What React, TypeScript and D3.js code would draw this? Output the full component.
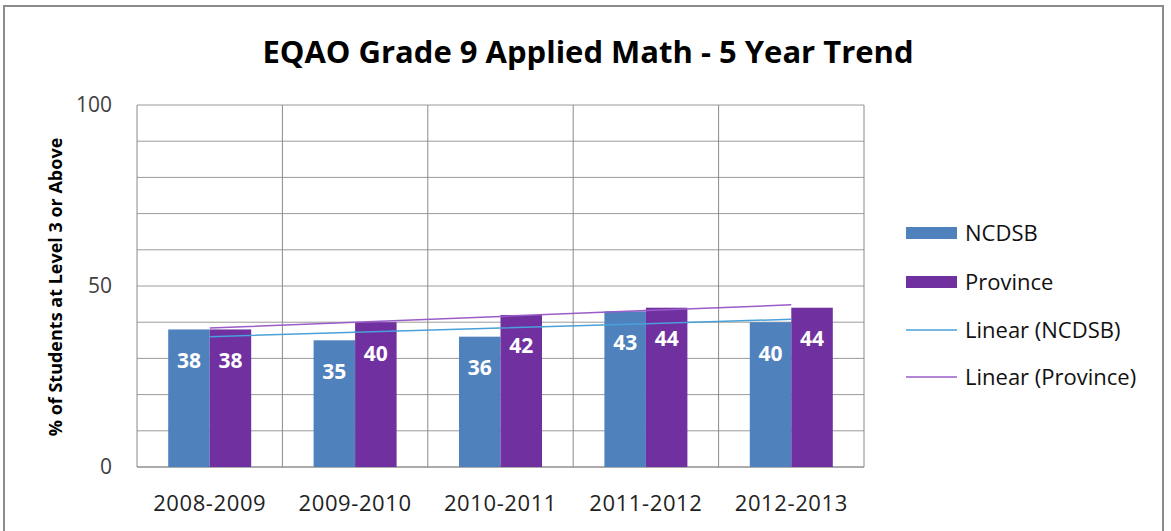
import React from "react";
import * as d3 from "d3";

const categories = ["2008-2009", "2009-2010", "2010-2011", "2011-2012", "2012-2013"];
const ncdsb = [38, 35, 36, 43, 40];
const province = [38, 40, 42, 44, 44];
const yTicks = [0, 50, 100];
const seriesNames = ["NCDSB", "Province"];
const seriesColors = ["#4f81bd", "#7030a0"];
const trendColors = ["#4aa0d8", "#9a5cc8"];

function linearFit(vals: number[]) {
  const xs = vals.map((_, i) => i);
  const mx = d3.mean(xs)!;
  const my = d3.mean(vals)!;
  let num = 0, den = 0;
  xs.forEach((x, i) => { num += (x - mx) * (vals[i] - my); den += (x - mx) ** 2; });
  const slope = num / den;
  return xs.map((x) => my + slope * (x - mx));
}

export default function App() {
  const W = 1171, H = 531;
  const left = 137, right = 864, top = 105, bottom = 467;
  const font = "'Open Sans', 'Liberation Sans', sans-serif";
  const x = d3.scaleBand<string>().domain(categories).range([left, right]);
  const y = d3.scaleLinear().domain([0, 100]).range([bottom, top]);
  const grid = d3.range(0, 101, 10);
  const bw = 41.5;
  const series = [ncdsb, province];
  const trends = series.map(linearFit);
  const line = d3.line<number>().x((_, i) => x(categories[i])! + x.bandwidth() / 2).y((v) => y(v));
  const legendY = [233, 282, 330, 377];

  return (
    <svg width={W} height={H} style={{ position: "absolute", left: 0, top: 0 }}>
      <rect x={0} y={0} width={W} height={H} fill="#fff" />
      <rect x={4} y={6} width={1159} height={560} fill="#fff" stroke="#8c8c8c" strokeWidth={2} />
      <text x={588} y={63} textAnchor="middle" fontFamily={font} fontWeight="bold" fontSize={31} fill="#000">
        EQAO Grade 9 Applied Math - 5 Year Trend
      </text>
      {grid.map((g) => (
        <line key={g} x1={left} x2={right} y1={y(g)} y2={y(g)} stroke="#9a9a9a" strokeWidth={1} />
      ))}
      {categories.map((c) => (
        <line key={c} x1={x(c)!} x2={x(c)!} y1={top} y2={bottom} stroke="#8a8a8a" strokeWidth={1} />
      ))}
      <line x1={right} x2={right} y1={top} y2={bottom} stroke="#8a8a8a" strokeWidth={1} />
      <line x1={left} x2={right} y1={bottom} y2={bottom} stroke="#8a8a8a" strokeWidth={1} />
      {series.map((vals, si) =>
        vals.map((v, i) => {
          const cx = x(categories[i])! + x.bandwidth() / 2;
          const bx = cx - bw + si * bw;
          return <rect key={`${si}-${i}`} x={bx} y={y(v)} width={bw} height={bottom - y(v)} fill={seriesColors[si]} />;
        })
      )}
      {trends.map((t, si) => (
        <path key={si} d={line(t)!} fill="none" stroke={trendColors[si]} strokeWidth={1.5} />
      ))}
      {series.map((vals, si) =>
        vals.map((v, i) => {
          const cx = x(categories[i])! + x.bandwidth() / 2;
          const bx = cx - bw + si * bw;
          return (
            <text key={`l${si}-${i}`} x={bx + bw / 2} y={y(v) + 31} dy="0.35em" textAnchor="middle"
              fontFamily={font} fontWeight="bold" fontSize={21} fill="#fff">{v}</text>
          );
        })
      )}
      {yTicks.map((t) => (
        <text key={t} x={112} y={y(t)} dy="0.35em" textAnchor="end" fontFamily={font} fontSize={21} fill="#404040">{t}</text>
      ))}
      <text transform={`translate(56,287) rotate(-90)`} textAnchor="middle" dy="0.35em"
        fontFamily={font} fontWeight="bold" fontSize={18} fill="#000">% of Students at Level 3 or Above</text>
      {categories.map((c) => (
        <text key={c} x={x(c)! + x.bandwidth() / 2} y={503} dy="0.35em" textAnchor="middle" fontFamily={font}
          fontSize={22} letterSpacing={0.6} fill="#222">{c}</text>
      ))}
      {seriesNames.map((n, i) => (
        <g key={n}>
          <rect x={906} y={legendY[i] - 6} width={51} height={12} fill={seriesColors[i]} />
          <text x={965} y={legendY[i]} dy="0.35em" fontFamily={font} fontSize={22} fill="#111">{n}</text>
        </g>
      ))}
      {seriesNames.map((n, i) => (
        <g key={"t" + n}>
          <line x1={906} x2={957} y1={legendY[i + 2]} y2={legendY[i + 2]} stroke={trendColors[i]} strokeWidth={1.5} />
          <text x={965} y={legendY[i + 2]} dy="0.35em" fontFamily={font} fontSize={22} fill="#111">{`Linear (${n})`}</text>
        </g>
      ))}
    </svg>
  );
}
